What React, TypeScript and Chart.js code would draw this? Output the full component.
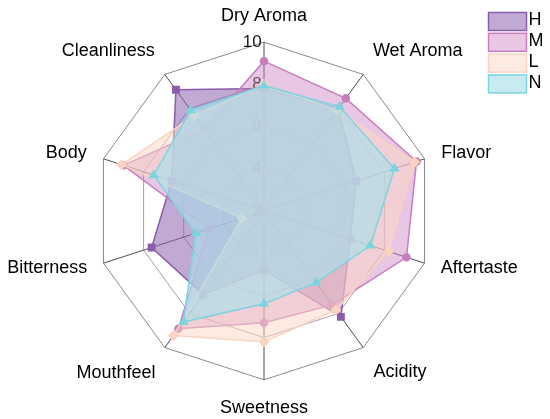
import React, { useEffect, useRef } from 'react';
import { Chart, registerables } from 'chart.js';

Chart.register(...registerables);
Chart.defaults.font.family = "'Liberation Sans', Arial, sans-serif";

const categories = ['Dry Aroma', 'Wet Aroma', 'Flavor', 'Aftertaste', 'Acidity', 'Sweetness', 'Mouthfeel', 'Bitterness', 'Body', 'Cleanliness'];
const seriesH = [7.8, 8.0, 6.6, 6.3, 8.2, 4.8, 6.9, 7.6, 6.6, 9.1];
const seriesM = [9.1, 8.6, 9.6, 9.1, 7.5, 7.3, 8.9, 4.75, 9.0, 6.8];
const seriesL = [8.0, 7.9, 9.5, 8.2, 7.8, 8.2, 9.3, 3.1, 9.1, 7.6];
const seriesN = [7.95, 8.1, 8.5, 7.3, 6.2, 6.4, 8.5, 5.4, 7.5, 7.9];
const tickValues = [2, 4, 6, 8, 10];

// per-label placement (radial padding and line height used by Chart.js point labels)
const labelPadding = [18.1, 8.0, 9.1, 8.5, 8.9, 19.7, 7.2, 8.5, 9.1, 8.4];
const labelLineHeight = ['0px', '20.4px', '0px', '0px', '20.6px', '0px', '24.8px', '0px', '0px', '19.8px'];

const legendPlugin = {
  id: 'boxLegend',
  afterDraw(chart: any) {
    const ctx = chart.ctx;
    ctx.save();
    chart.data.datasets.forEach((ds: any, i: number) => {
      const x = 488.5;
      const y = 12.5 + i * 20.8;
      ctx.fillStyle = ds.backgroundColor;
      ctx.fillRect(x, y, 38, 18);
      ctx.strokeStyle = ds.borderColor;
      ctx.lineWidth = 1.5;
      ctx.strokeRect(x, y, 38, 18);
      ctx.fillStyle = '#000';
      ctx.font = "18px 'Liberation Sans', Arial, sans-serif";
      ctx.textBaseline = 'middle';
      ctx.textAlign = 'left';
      ctx.fillText(ds.label, x + 40, y + 8);
    });
    ctx.restore();
  },
};

export default function App() {
  const ref = useRef<HTMLCanvasElement>(null);
  useEffect(() => {
    const chart = new Chart(ref.current as HTMLCanvasElement, {
      type: 'radar',
      data: {
        labels: categories,
        datasets: [
          {
            label: 'H', data: seriesH, order: 4,
            borderColor: 'rgb(138, 92, 170)', backgroundColor: 'rgba(140, 100, 175, 0.55)',
            pointBackgroundColor: 'rgb(138, 92, 170)', pointBorderColor: 'rgb(138, 92, 170)',
            pointStyle: 'rect', pointRadius: 4.5, borderWidth: 1.5, fill: true,
          },
          {
            label: 'M', data: seriesM, order: 3,
            borderColor: 'rgb(200, 125, 190)', backgroundColor: 'rgba(205, 130, 195, 0.45)',
            pointBackgroundColor: 'rgb(200, 125, 190)', pointBorderColor: 'rgb(200, 125, 190)',
            pointStyle: 'circle', pointRadius: 3.5, borderWidth: 1.5, fill: true,
          },
          {
            label: 'L', data: seriesL, order: 2,
            borderColor: 'rgb(250, 212, 192)', backgroundColor: 'rgba(252, 215, 195, 0.5)',
            pointBackgroundColor: 'rgb(250, 212, 192)', pointBorderColor: 'rgb(250, 212, 192)',
            pointStyle: 'rectRot', pointRadius: 4.5, borderWidth: 1.5, fill: true,
          },
          {
            label: 'N', data: seriesN, order: 1,
            borderColor: 'rgb(125, 211, 223)', backgroundColor: 'rgba(170, 225, 235, 0.65)',
            pointBackgroundColor: 'rgb(125, 211, 223)', pointBorderColor: 'rgb(125, 211, 223)',
            pointStyle: 'triangle', pointRadius: 4.5, borderWidth: 1.5, fill: true,
          },
        ],
      },
      options: {
        animation: false,
        responsive: true,
        maintainAspectRatio: false,
        layout: { padding: { top: 16, bottom: 10, left: 0, right: 24 } },
        plugins: { legend: { display: false }, tooltip: { enabled: false } },
        scales: {
          r: {
            min: tickValues[0],
            max: tickValues[tickValues.length - 1],
            afterBuildTicks: (scale: any) => {
              scale.ticks = [{ value: tickValues[0] }, ...tickValues.map((v) => ({ value: v }))];
            },
            ticks: {
              stepSize: 2,
              showLabelBackdrop: false,
              backdropPadding: 0,
              color: '#1a1a1a',
              font: { size: 17 },
              callback: (v: any) => String(v) + (Number(v) >= 10 ? '     ' : '   '),
            },
            grid: {
              color: (c: any) => (c.tick && c.tick.value === 10 ? '#8a8a8a' : '#a3a3a3'),
              lineWidth: 1,
            },
            angleLines: { color: '#4d4d4d', lineWidth: 1 },
            pointLabels: {
              color: '#000',
              padding: (c: any) => labelPadding[c.index],
              font: (c: any) => ({ size: 18, lineHeight: labelLineHeight[c.index] }),
            },
          },
        },
      },
      plugins: [legendPlugin],
    } as any);
    return () => chart.destroy();
  }, []);
  return (
    <div style={{ position: 'absolute', left: 0, top: 0, width: 550, height: 419, background: '#fff' }}>
      <canvas ref={ref} />
    </div>
  );
}
